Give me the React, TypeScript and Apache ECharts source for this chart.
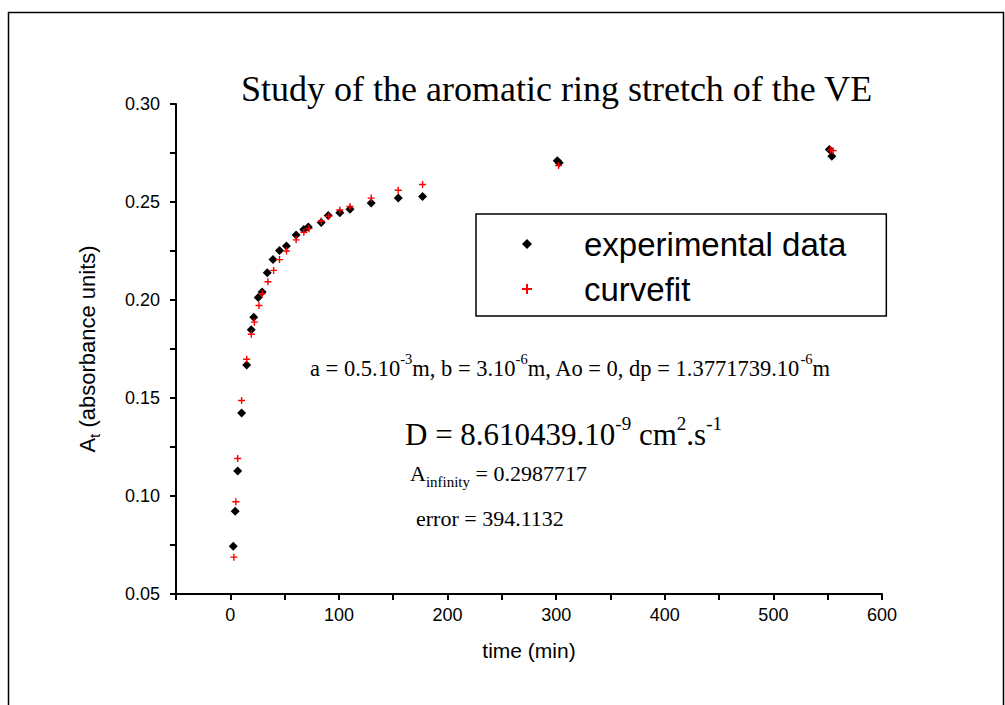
import React, { useEffect, useRef } from "react";
import * as echarts from "echarts";

const timeExp = [2.7, 4.5, 6.8, 10.4, 15.1, 19.3, 21.6, 25.7, 29.3, 34.0, 39.3, 45.3, 51.7, 60.6, 67.7, 71.8, 83.7, 90.1, 100.8, 110.2, 129.7, 154.6, 177.0, 301.0, 302.8, 551.5, 553.8];
const absExp = [0.0744, 0.0922, 0.1127, 0.1423, 0.1669, 0.1848, 0.1912, 0.2013, 0.2041, 0.2139, 0.2206, 0.2252, 0.2275, 0.2332, 0.2360, 0.2373, 0.2396, 0.2431, 0.2445, 0.2463, 0.2495, 0.2520, 0.2528, 0.2711, 0.2700, 0.2768, 0.2734];
const timeFit = [3.3, 5.1, 6.8, 10.4, 15.1, 19.3, 22.2, 26.4, 29.3, 34.6, 39.9, 45.3, 51.7, 60.6, 67.7, 72.4, 83.7, 90.7, 100.8, 110.2, 129.7, 154.6, 177.0, 302.2, 552.7, 555.0];
const absFit = [0.0688, 0.0971, 0.1191, 0.1487, 0.1698, 0.1825, 0.1887, 0.1972, 0.2032, 0.2093, 0.2151, 0.2206, 0.2250, 0.2307, 0.2346, 0.2364, 0.2403, 0.2427, 0.2459, 0.2477, 0.2520, 0.2560, 0.2589, 0.2686, 0.2766, 0.2762];

const xTickLabels = ["0", "100", "200", "300", "400", "500", "600"];
const yTickLabels = ["0.05", "0.10", "0.15", "0.20", "0.25", "0.30"];

const titleText = "Study of the aromatic ring stretch of the VE";
const seriesNames = ["experimental data", "curvefit"];

const SERIF = "'Liberation Serif', 'Times New Roman', serif";
const SANS = "'Liberation Sans', Arial, sans-serif";

const plusPath = "path://M4,0h2v4h4v2h-4v4h-2v-4h-4v-2h4z";

export default function App() {
  const ref = useRef<HTMLDivElement>(null);
  useEffect(() => {
    if (!ref.current) return;
    const chart = echarts.init(ref.current, null, { renderer: "svg" });
    const expData = timeExp.map((t, i) => [t, absExp[i]]);
    const fitData = timeFit.map((t, i) => [t, absFit[i]]);

    const mainTok = (size: number) => ({ fontFamily: SERIF, fontSize: size, color: "#000", lineHeight: size + 10, verticalAlign: "middle" });
    const supTok = (size: number) => ({ fontFamily: SERIF, fontSize: size, color: "#000", lineHeight: size, verticalAlign: "top" });
    const subTok = (size: number) => ({ fontFamily: SERIF, fontSize: size, color: "#000", lineHeight: size, verticalAlign: "bottom" });

    chart.setOption({
      animation: false,
      backgroundColor: "#fff",
      title: {
        text: titleText,
        left: 241,
        top: 71,
        padding: 0,
        textStyle: { fontFamily: SERIF, fontSize: 36, fontWeight: "normal", color: "#000" },
      },
      grid: { left: 176, right: 123, top: 104, bottom: 111, containLabel: false },
      xAxis: {
        type: "value",
        min: -50,
        max: 600,
        interval: 50,
        name: "time (min)",
        nameLocation: "middle",
        nameGap: 46,
        nameTextStyle: { fontFamily: SANS, fontSize: 21, color: "#000" },
        axisLine: { show: true, onZero: false, lineStyle: { color: "#000", width: 2 } },
        axisTick: { show: true, length: 6, lineStyle: { color: "#000", width: 2 } },
        axisLabel: {
          margin: 12,
          fontFamily: SANS,
          fontSize: 18,
          color: "#000",
          formatter: (v: number) => {
            const s = String(Math.round(v));
            return xTickLabels.includes(s) ? s : "";
          },
        },
        splitLine: { show: false },
      },
      yAxis: {
        type: "value",
        min: 0.05,
        max: 0.3,
        interval: 0.025,
        name: "{a|A}{s|t}{a| (absorbance units)}",
        nameLocation: "middle",
        nameGap: 74,
        nameRotate: 90,
        nameTextStyle: {
          rich: {
            a: { fontFamily: SANS, fontSize: 22, color: "#000", lineHeight: 30, verticalAlign: "middle" },
            s: { fontFamily: SANS, fontSize: 15, color: "#000", lineHeight: 15, verticalAlign: "bottom" },
          },
        },
        axisLine: { show: true, onZero: false, lineStyle: { color: "#000", width: 2 } },
        axisTick: { show: true, length: 6, lineStyle: { color: "#000", width: 2 } },
        axisLabel: {
          margin: 16,
          fontFamily: SANS,
          fontSize: 18,
          color: "#000",
          formatter: (v: number) => {
            const s = v.toFixed(3);
            const s2 = v.toFixed(2);
            return yTickLabels.includes(s2) && Math.abs(parseFloat(s) - parseFloat(s2)) < 1e-6 ? s2 : "";
          },
        },
        splitLine: { show: false },
      },
      legend: {
        left: 476,
        top: 214,
        orient: "vertical",
        selectedMode: false,
        backgroundColor: "#fff",
        borderColor: "#000",
        borderWidth: 1.5,
        borderRadius: 0,
        padding: [12, 40, 9, 46],
        itemGap: 9,
        itemWidth: 10,
        itemHeight: 10,
        itemStyle: { opacity: 1 },
        textStyle: { fontFamily: SANS, fontSize: 33, color: "#000", lineHeight: 36, padding: [0, 0, 0, 47] },
        data: [
          { name: seriesNames[0], icon: "diamond" },
          { name: seriesNames[1], icon: plusPath },
        ],
      },
      series: [
        {
          name: seriesNames[0],
          type: "scatter",
          data: expData,
          symbol: "diamond",
          symbolSize: 9,
          itemStyle: { color: "#000", opacity: 1 },
          z: 2,
        },
        {
          name: seriesNames[1],
          type: "scatter",
          data: fitData,
          symbol: plusPath,
          symbolSize: 7,
          itemStyle: { color: "#ff0000", opacity: 1 },
          z: 3,
        },
      ],
      graphic: [
        {
          type: "rect",
          left: 6,
          top: 10,
          silent: true,
          shape: { width: 995, height: 800 },
          style: { fill: "none", stroke: "#000", lineWidth: 1.5 },
          z: -10,
        },
        {
          type: "text",
          x: 310,
          y: 368,
          style: {
            text: "{n|a = 0.5.10}{p|-3}{n|m, b = 3.10}{p|-6}{n|m, Ao = 0, dp = 1.3771739.10}{p|-6}{n|m}",
            verticalAlign: "middle",
            rich: { n: mainTok(22.5), p: supTok(14.5) },
          },
        },
        {
          type: "text",
          x: 405,
          y: 434,
          style: {
            text: "{n|D = 8.610439.10}{p|-9}{n| cm}{p|2}{n|.s}{p|-1}",
            verticalAlign: "middle",
            rich: { n: mainTok(31), p: supTok(19) },
          },
        },
        {
          type: "text",
          x: 410,
          y: 473,
          style: {
            text: "{n|A}{b|infinity}{n| = 0.2987717}",
            verticalAlign: "middle",
            rich: { n: mainTok(22), b: subTok(15) },
          },
        },
        {
          type: "text",
          x: 416,
          y: 518,
          style: {
            text: "{n|error = 394.1132}",
            verticalAlign: "middle",
            rich: { n: mainTok(22) },
          },
        },
      ],
    });
    return () => chart.dispose();
  }, []);
  return (
    <div
      ref={ref}
      style={{ position: "fixed", left: 0, top: 0, width: 1005, height: 705 }}
    />
  );
}
